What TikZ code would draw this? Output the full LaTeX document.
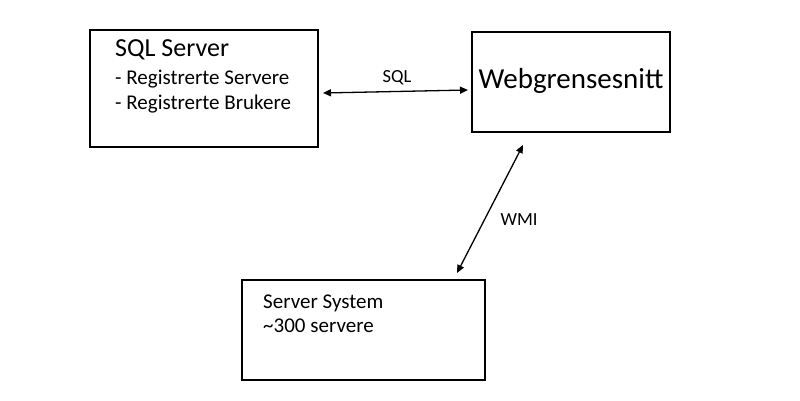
\documentclass[tikz,border=0pt]{standalone}
\usepackage{fontspec}
\setmainfont{Carlito}
\usetikzlibrary{arrows.meta}
\tikzset{
    box/.style={
        draw,
        line width=1.8pt,
        inner sep=0pt,
        outer sep=0pt
    },
    label/.style={
        inner sep=0pt,
        anchor=base west
    },
    tag/.style={
        inner sep=0pt,
        anchor=base,
        font=\fontsize{18.5}{22}\selectfont
    },
    conn/.style={
        line width=1.3pt,
        {Triangle[length=8pt,width=7pt]}-{Triangle[length=8pt,width=7pt]}
    }
}
\begin{document}
\begin{tikzpicture}[x=1pt,y=-1pt]
    \useasboundingbox[fill=white] (0,0) rectangle (800,400);
    \node[box,minimum width=228pt,minimum height=117pt] (sql) at (204,88.5) {};
    \node[box,minimum width=198pt,minimum height=100pt] (web) at (571,82) {};
    \node[box,minimum width=243pt,minimum height=100pt] (srv) at (363.5,330) {};
    \node[label,font=\fontsize{26}{30}\selectfont] (sqltitle) at (115,56) {SQL Server};
    \node[label,font=\fontsize{21}{25}\selectfont] (sqlsrv) at (115,84) {- Registrerte Servere};
    \node[label,font=\fontsize{21}{25}\selectfont] (sqlusr) at (115,109) {- Registrerte Brukere};
    \node[inner sep=0pt,anchor=base,font=\fontsize{29}{34}\selectfont] (webtitle) at (571,88) {Webgrensesnitt};
    \node[label,font=\fontsize{21}{25}\selectfont] (srvtitle) at (263,308) {Server System};
    \node[label,font=\fontsize{21}{25}\selectfont] (srvcount) at (263,332) {\~{}300 servere};
    \draw[conn] ([shift={(5,4.5)}]sql.east) -- ([shift={(-4,8)}]web.west);
    \node[tag] (sqllab) at (397,82) {SQL};
    \draw[conn] ([shift={(-48,13)}]web.south) -- ([shift={(93.5,-7)}]srv.north);
    \node[tag] (wmilab) at (519,225) {WMI};
\end{tikzpicture}
\end{document}
